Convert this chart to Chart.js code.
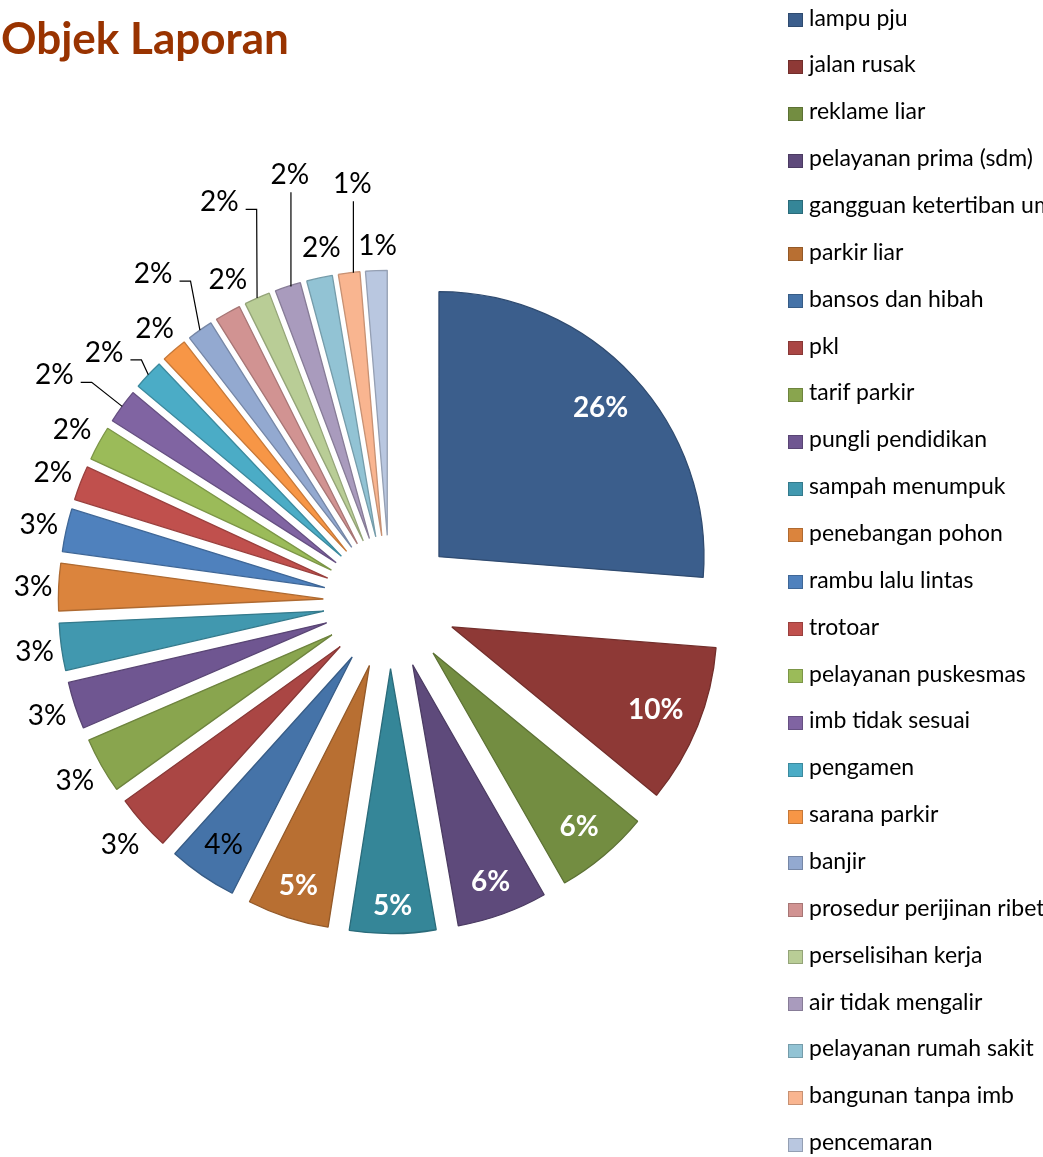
<!DOCTYPE html>
<html>
<head>
<meta charset="utf-8">
<title>Objek Laporan</title>
<script src="https://cdn.jsdelivr.net/npm/chart.js@4/dist/chart.umd.min.js"></script>
<style>
    html, body { margin: 0; padding: 0; background: #fff; }
    body { width: 1043px; height: 1157px; position: relative; overflow: hidden; font-family: Lato, sans-serif; }
    #pie { position: absolute; left: 0; top: 0; }
    #title { position: absolute; left: 1px; top: 15px; font-size: 44px; line-height: 1; font-weight: bold; color: #993300; white-space: nowrap; }
    #legend { position: absolute; left: 788px; top: 0; width: 255px; height: 1157px; }
    .leg-item { position: absolute; left: 0; width: 400px; height: 46px; }
    .leg-box { position: absolute; left: 0; top: 13px; width: 13px; height: 12px; border: 1px solid; }
    .leg-text { position: absolute; left: 21px; top: 5.5px; font-size: 23px; line-height: 1; color: #000; white-space: nowrap; }
</style>
</head>
<body>
<canvas id="pie" width="1043" height="1157"></canvas>
<div id="title">Objek Laporan</div>
<div id="legend"></div>

<script>
// === Data ===
const kategori = [
    "lampu pju", "jalan rusak", "reklame liar", "pelayanan prima (sdm)",
    "gangguan ketertiban umum", "parkir liar", "bansos dan hibah", "pkl",
    "tarif parkir", "pungli pendidikan", "sampah menumpuk", "penebangan pohon",
    "rambu lalu lintas", "trotoar", "pelayanan puskesmas", "imb tidak sesuai",
    "pengamen", "sarana parkir", "banjir", "prosedur perijinan ribet",
    "perselisihan kerja", "air tidak mengalir", "pelayanan rumah sakit",
    "bangunan tanpa imb", "pencemaran"
];
const jumlah = [100, 37, 22, 21, 20, 19, 16, 13, 13, 11, 11, 11, 10, 8, 8, 8, 7, 6, 6, 6, 6, 6, 6, 5, 5];
const warna = [
    "#3B5E8C", "#8E3936", "#738D41", "#5E4A7B", "#358698", "#B86F32",
    "#4573A8", "#AA4644", "#89A54E", "#6F5691", "#4198AF", "#DB843D",
    "#4F81BD", "#C0504D", "#9BBB59", "#8064A2", "#4BACC6", "#F79646",
    "#93A9D0", "#D19392", "#B9CD96", "#A99BBD", "#92C3D4", "#F9B590",
    "#B9C7E0"
];

// === Tmavší okraj dílku ===
function tmavsi(hex, f) {
    const n = parseInt(hex.slice(1), 16);
    const r = Math.round(((n >> 16) & 255) * f);
    const g = Math.round(((n >> 8) & 255) * f);
    const b = Math.round((n & 255) * f);
    return `rgb(${r},${g},${b})`;
}
const okraje = warna.map(c => tmavsi(c, 0.8));

// === Vysunutí dílků od středu ===
const explodePlugin = {
    id: "explode",
    afterDatasetUpdate(chart, args, opts) {
        args.meta.data.forEach(arc => {
            const mid = (arc.startAngle + arc.endAngle) / 2;
            arc.x += Math.cos(mid) * opts.distance;
            arc.y += Math.sin(mid) * opts.distance;
        });
    }
};

// === Popisky procent ===
const labelPlugin = {
    id: "sliceLabels",
    afterDatasetsDraw(chart, args, opts) {
        const ctx = chart.ctx;
        const meta = chart.getDatasetMeta(0);
        const total = jumlah.reduce((a, b) => a + b, 0);
        ctx.save();
        ctx.textAlign = "center";
        ctx.textBaseline = "alphabetic";
        meta.data.forEach((arc, i) => {
            const text = Math.round(jumlah[i] / total * 100) + "%";
            const mid = (arc.startAngle + arc.endAngle) / 2;
            const ux = Math.cos(mid), uy = Math.sin(mid);
            const R = arc.outerRadius;
            const bold = i < opts.putih;
            ctx.font = (bold ? "bold " : "") + opts.size + "px Lato";
            const tw = ctx.measureText(text).width;
            let lx, ly;
            if (i < opts.dalam) {
                const a = Math.sign(ux) * (tw + 6) / 2, b = Math.sign(uy) * 18;
                const L = R - 10;
                const B = ux * a + uy * b;
                const r = -B + Math.sqrt(B * B - (a * a + b * b - L * L));
                lx = arc.x + ux * r;
                ly = arc.y + uy * r;
            } else {
                const w2 = tw / 2 + 2, h2 = 16, target = R + 4;
                let lo = R, hi = R + 120;
                for (let k = 0; k < 40; k++) {
                    const r = (lo + hi) / 2;
                    const dx = Math.max(0, Math.abs(ux * r) - w2);
                    const dy = Math.max(0, Math.abs(uy * r) - h2);
                    if (Math.hypot(dx, dy) < target) lo = r; else hi = r;
                }
                lx = arc.x + ux * lo;
                ly = arc.y + uy * lo;
                const g = opts.geser[i];
                if (g) { lx += g[0]; ly += g[1]; }
                if (opts.vodici.includes(i)) {
                    const px = arc.x + ux * R, py = arc.y + uy * R;
                    ctx.beginPath();
                    ctx.strokeStyle = "#000";
                    ctx.lineWidth = 1.2;
                    if (Math.abs(lx - px) < w2) {
                        ctx.moveTo(lx + 1, py);
                        ctx.lineTo(lx + 1, ly + 18);
                    } else {
                        ctx.moveTo(px, py);
                        ctx.lineTo(lx + w2 + 16, ly + 8);
                        ctx.lineTo(lx + w2 + 5, ly + 8);
                    }
                    ctx.stroke();
                }
            }
            ctx.fillStyle = bold ? "#fff" : "#000";
            ctx.fillText(text, lx, ly + opts.size * 0.358);
        });
        ctx.restore();
    }
};

const chart = new Chart(document.getElementById("pie"), {
    type: "pie",
    data: {
        labels: kategori,
        datasets: [{
            data: jumlah,
            backgroundColor: warna,
            borderColor: okraje,
            borderWidth: 1.3,
            radius: 265
        }]
    },
    options: {
        responsive: false,
        animation: false,
        events: [],
        layout: { padding: { left: 0, right: 263, top: 47, bottom: 0 } },
        plugins: {
            legend: { display: false },
            tooltip: { enabled: false },
            explode: { distance: 66.7 },
            sliceLabels: {
                size: 28,
                putih: 6,
                dalam: 7,
                geser: { 15: [-43, -14], 16: [-22, -2], 18: [-30, -33], 19: [14, -9], 20: [-27, -72], 21: [10, -88], 22: [7, -8], 23: [6, -68], 24: [2, -5] },
                vodici: [15, 16, 18, 20, 21, 23]
            }
        }
    },
    plugins: [explodePlugin, labelPlugin]
});

// === Legenda ===
const legenda = document.getElementById("legend");
kategori.forEach((nazev, i) => {
    const row = document.createElement("div");
    row.className = "leg-item";
    row.style.top = (46.86 * i) + "px";
    row.innerHTML = `<span class="leg-box" style="background:${warna[i]};border-color:${okraje[i]}"></span><span class="leg-text">${nazev}</span>`;
    legenda.appendChild(row);
});
</script>
</body>
</html>
